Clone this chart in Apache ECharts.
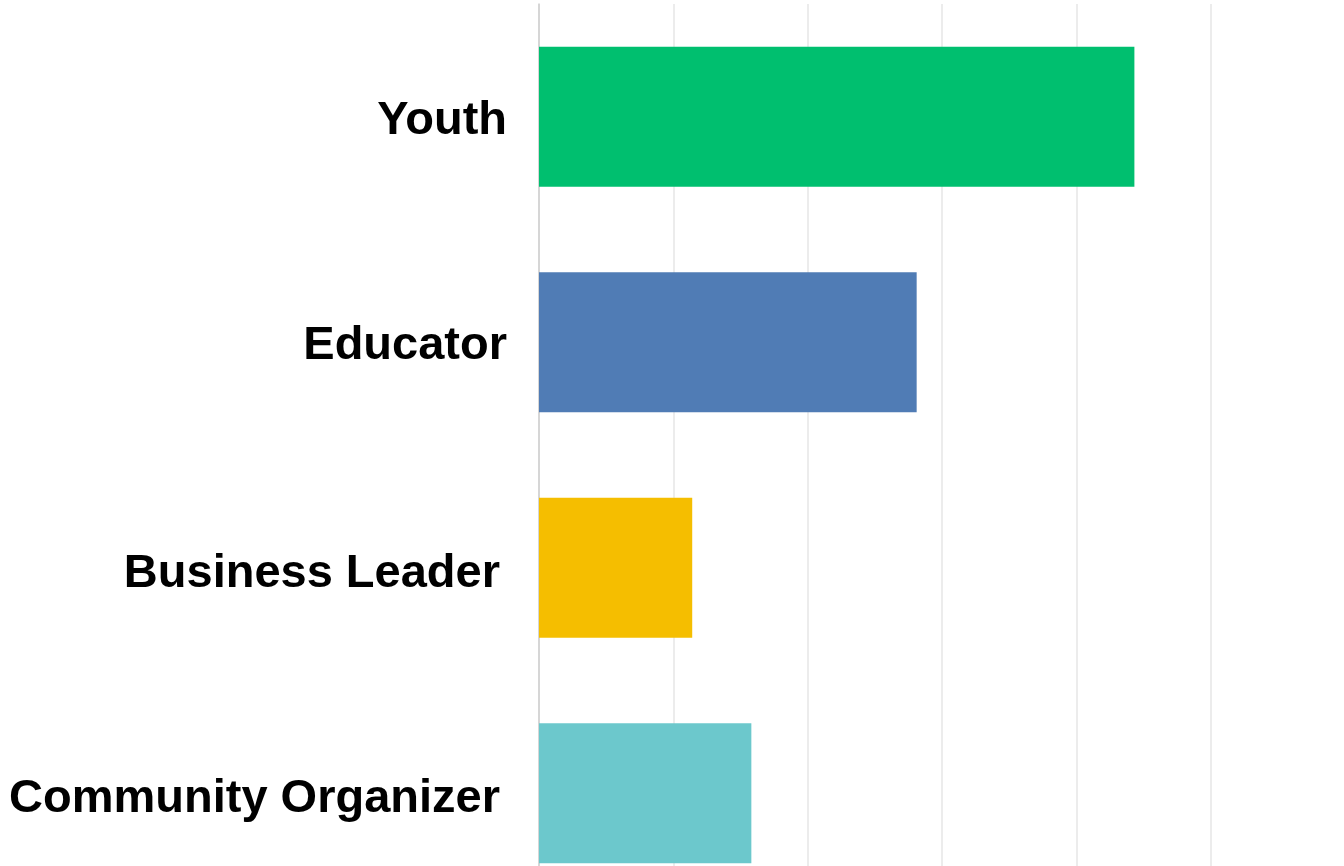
<!DOCTYPE html>
<html>
<head>
<meta charset="utf-8">
<script src="https://cdn.jsdelivr.net/npm/echarts@6/dist/echarts.min.js"></script>
<style>
  html, body { margin: 0; padding: 0; background: #fff; }
  #chart { width: 1344px; height: 866px; }
</style>
</head>
<body>
<div id="chart"></div>
<script>
// categories from top to bottom
const categories = ['Youth', 'Educator', 'Business Leader', 'Community Organizer']
const values = [44.3, 28.1, 11.4, 15.8]
const barColors = ['#00BF6F', '#507CB5', '#F5BE00', '#6CC8CC']

const chart = echarts.init(document.getElementById('chart'))

const labelFont = {
    color: '#000',
    fontFamily: 'Liberation Sans, Arial, sans-serif',
    fontWeight: 'bold',
    fontSize: 47
}

chart.setOption({
    backgroundColor: '#fff',
    animation: false,
    grid: {
        left: 539,
        right: 133,
        top: 4,
        bottom: -40,
        outerBoundsMode: 'none'
    },
    xAxis: {
        type: 'value',
        min: 0,
        max: 50,
        interval: 10,
        axisLabel: { show: false },
        axisTick: { show: false },
        axisLine: { show: false },
        splitLine: { lineStyle: { color: '#e6e6e6', width: 1.5 } }
    },
    yAxis: {
        type: 'category',
        inverse: true,
        data: categories,
        axisTick: { show: false },
        axisLine: { lineStyle: { color: '#cfcfcf', width: 1.5 } },
        axisLabel: Object.assign({
            margin: 32,
            // the lower two labels sit a bit further left in the original
            formatter: (v, i) => i >= 2 ? '{b|' + v + '}' : '{a|' + v + '}',
            rich: {
                a: Object.assign({ padding: [8, 0, 0, 0] }, labelFont),
                b: Object.assign({ padding: [12, 7, 0, 0] }, labelFont)
            }
        }, labelFont)
    },
    series: [{
        type: 'bar',
        barWidth: 140,
        data: values.map((v, i) => ({ value: v, itemStyle: { color: barColors[i] } }))
    }]
})
</script>
</body>
</html>
